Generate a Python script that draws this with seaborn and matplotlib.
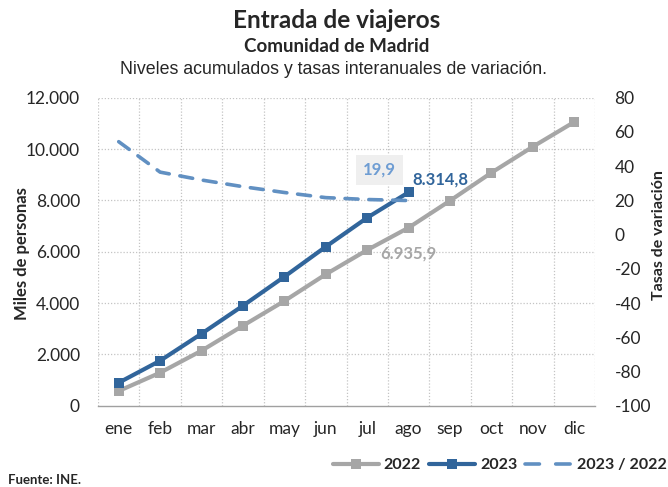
import matplotlib
matplotlib.use("Agg")
import matplotlib.pyplot as plt
from matplotlib.lines import Line2D
from matplotlib.ticker import FixedLocator
import numpy as np
import pandas as pd
import seaborn as sns

# Datos: entrada de viajeros en la Comunidad de Madrid (miles de personas, acumulado)
meses = ["ene", "feb", "mar", "abr", "may", "jun", "jul", "ago", "sep", "oct", "nov", "dic"]
acum_2022 = [573, 1286, 2143, 3117, 4079, 5120, 6067, 6935.9, 7988, 9079, 10092, 11055]
acum_2023 = [896, 1753, 2805, 3896, 5026, 6195, 7325, 8314.8]
tasa_23_22 = [54.3, 36.5, 31.9, 28.0, 24.6, 21.6, 20.5, 19.9]

izq_ticks = [0, 2000, 4000, 6000, 8000, 10000, 12000]
der_ticks = [-100, -80, -60, -40, -20, 0, 20, 40, 60, 80]

GRIS = "#a6a6a6"
AZUL = "#31659b"
AZUL_CLARO = "#6190c2"
ETIQ_TASA = "#6e9dd3"

sns.set_style("white")
plt.rcParams["font.family"] = ["Lato", "DejaVu Sans"]


def es_num(v, dec=1):
    """Formato numérico español: punto de miles, coma decimal."""
    return f"{v:,.{dec}f}".replace(",", "X").replace(".", ",").replace("X", ".")


df22 = pd.DataFrame({"mes": np.arange(len(acum_2022)), "valor": acum_2022})
df23 = pd.DataFrame({"mes": np.arange(len(acum_2023)), "valor": acum_2023})
dft = pd.DataFrame({"mes": np.arange(len(tasa_23_22)), "valor": tasa_23_22})

W, H = 668, 487
fig = plt.figure(figsize=(W / 100, H / 100), dpi=100)
x0, x1, y0, y1 = 98, 595, 97.7, 405.7
ax = fig.add_axes([x0 / W, 1 - y1 / H, (x1 - x0) / W, (y1 - y0) / H])
ax2 = ax.twinx()

sns.lineplot(data=df22, x="mes", y="valor", ax=ax, color=GRIS, lw=3.0,
             marker="s", markersize=7.5, markeredgewidth=0, zorder=3)
sns.lineplot(data=df23, x="mes", y="valor", ax=ax, color=AZUL, lw=3.0,
             marker="s", markersize=7.5, markeredgewidth=0, zorder=4)
sns.lineplot(data=dft, x="mes", y="valor", ax=ax2, color=AZUL_CLARO, lw=2.6,
             zorder=3)
ax2.lines[0].set_dashes([3.6, 3.0])
ax2.lines[0].set_dash_capstyle("round")

ax.set_xlim(-0.5, 11.5)
ax.set_ylim(0, 12000)
ax2.set_ylim(-100, 80)

# Eje X: etiquetas centradas, rejilla en los límites de cada mes
ax.set_xticks(np.arange(12))
ax.set_xticklabels(meses, fontsize=12.5)
ax.xaxis.set_minor_locator(FixedLocator(np.arange(-0.5, 12, 1)))
ax.tick_params(axis="x", which="major", length=0, pad=11)
ax.tick_params(axis="x", which="minor", length=3, color="#c8c8c8", direction="in")
ax.grid(False)
for xb in np.arange(-0.5, 12, 1):
    ax.axvline(xb, color="#c4c4c4", lw=0.9, ls=(0, (1, 1.5)), zorder=0)

ax.set_yticks(izq_ticks)
ax.set_yticklabels([es_num(v, 0) for v in izq_ticks], fontsize=12.5)
ax.tick_params(axis="y", length=0, pad=13)
for yv in izq_ticks[1:]:
    ax.axhline(yv, color="#c4c4c4", lw=0.9, ls=(0, (1, 1.5)), zorder=0)

ax2.set_yticks(der_ticks)
ax2.set_yticklabels([str(v) for v in der_ticks], fontsize=12.5)
ax2.tick_params(axis="y", length=0, pad=14)
ax2.set_ylabel("")
ax.set_xlabel("")
ax.set_ylabel("")

for a in (ax, ax2):
    for s in ("left", "top", "right"):
        a.spines[s].set_visible(False)
ax2.spines["bottom"].set_visible(False)
ax.spines["bottom"].set_color("#a0a0a0")
ax.spines["bottom"].set_linewidth(1.0)

# Etiquetas de valor del último mes con datos
i = len(acum_2023) - 1
ax.annotate(es_num(acum_2023[i]), (i, acum_2023[i]), xytext=(2.5, 9.5),
            textcoords="offset points", ha="left", va="center",
            fontsize=12, fontweight="bold", color=AZUL)
ax.annotate(es_num(acum_2022[i]), (i, acum_2022[i]), xytext=(0, -18.5),
            textcoords="offset points", ha="center", va="center",
            fontsize=12, fontweight="bold", color=GRIS)
ax2.annotate(es_num(tasa_23_22[i]), (i, tasa_23_22[i]), xytext=(-21, 22),
             textcoords="offset points", ha="center", va="center",
             fontsize=12, fontweight="bold", color=ETIQ_TASA,
             bbox=dict(boxstyle="square,pad=0.4", fc="#efefef", ec="none"))

# Títulos
fig.text(337 / W, 1 - 20 / H, "Entrada de viajeros", ha="center", va="center",
         fontsize=17.5, fontweight="bold")
fig.text(337 / W, 1 - 47 / H, "Comunidad de Madrid", ha="center", va="center",
         fontsize=13.5, fontweight="bold")
fig.text(333 / W, 1 - 70 / H, "Niveles acumulados y tasas interanuales de variación.",
         ha="center", va="center", fontsize=12.8, family="Liberation Sans")

# Títulos de los ejes
fig.text(22 / W, 1 - 254 / H, "Miles de personas", rotation=90, ha="center",
         va="center", fontsize=12, fontweight="bold")
fig.text(666 / W, 1 - 235 / H, "Tasas de variación", rotation=90, ha="right",
         va="center", fontsize=11.5, fontweight="bold")

fig.text(8 / W, 1 - 480 / H, "Fuente: INE.", ha="left", va="center",
         fontsize=9.5, fontweight="bold")

handles = [
    Line2D([], [], color=GRIS, lw=3, marker="s", markersize=7, markeredgewidth=0),
    Line2D([], [], color=AZUL, lw=3, marker="s", markersize=7, markeredgewidth=0),
    Line2D([], [], color=AZUL_CLARO, lw=2.6, dashes=[4.0, 4.5], dash_capstyle="round"),
]
fig.legend(handles, ["2022", "2023", "2023 / 2022"], loc="center right",
           bbox_to_anchor=(1.0, 1 - 465 / H), ncol=3, frameon=False,
           prop={"weight": "bold", "size": 11.5}, handlelength=2.9,
           handletextpad=0.3, columnspacing=0.5, borderaxespad=0, borderpad=0.1)

fig.savefig("out.png", dpi=100)
